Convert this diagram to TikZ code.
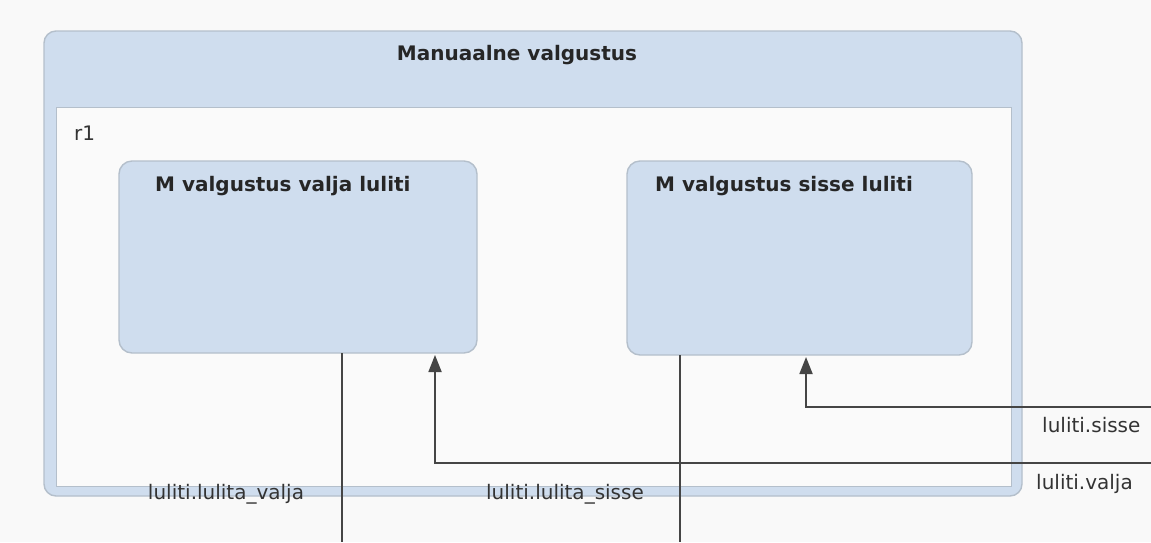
\documentclass[tikz,border=0pt]{standalone}
\usepackage{fontspec}
\setmainfont{DejaVu Sans}
\usetikzlibrary{arrows.meta}
\definecolor{pagebg}{HTML}{F9F9F9}
\definecolor{stfill}{HTML}{CFDDEE}
\definecolor{stline}{HTML}{B4BFCB}
\definecolor{regfill}{HTML}{FAFAFA}
\definecolor{wire}{HTML}{454545}
\definecolor{txt}{HTML}{333333}
\tikzset{
  statebox/.style={draw=stline, line width=1.4pt, fill=stfill, rounded corners=13pt},
  title/.style={font=\bfseries\fontsize{20}{24}\selectfont, text=black!85, inner sep=0pt},
  lbl/.style={font=\fontsize{20}{24}\selectfont, text=txt, inner sep=0pt},
  wireline/.style={draw=wire, line width=1.8pt},
  tip/.style={-{Triangle[length=17pt,width=13pt]}}
}
\begin{document}
\begin{tikzpicture}[x=1pt,y=-1pt]
  \useasboundingbox[fill=pagebg] (0,0) rectangle (1151,542);
  % composite state with its header band
  \draw[statebox, rounded corners=12pt] (44,31) rectangle (1022,496);
  \draw[draw=stline, line width=1pt, fill=regfill] (56,107) rectangle (1011,486);
  \node[title, anchor=center] (mv) at (517,55) {Manuaalne valgustus};
  \node[lbl, anchor=west] (r1) at (74,133) {r1};
  % inner states
  \draw[statebox] (119,161) rectangle (477,353);
  \node[title, anchor=west] (offt) at (155,186) {M valgustus valja luliti};
  \draw[statebox] (627,161) rectangle (972,355);
  \node[title, anchor=west] (ont) at (655,186) {M valgustus sisse luliti};
  % connector end points
  \coordinate (offout) at (342,353);
  \coordinate (offbot) at (342,542);
  \coordinate (onout) at (680,355);
  \coordinate (onbot) at (680,542);
  \coordinate (offin) at (435,355);
  \coordinate (onin) at (806,357);
  \coordinate (valjaR) at (1151,463);
  \coordinate (sisseR) at (1151,407);
  % transitions
  \draw[wireline] (offout) -- (offbot);
  \draw[wireline] (onout) -- (onbot);
  \draw[wireline, tip] (valjaR) -| (offin);
  \draw[wireline, tip] (sisseR) -| (onin);
  % transition labels
  \node[lbl, anchor=west] (ls) at (1042,425) {luliti.sisse};
  \node[lbl, anchor=west] (lv) at (1036,484) {luliti.valja};
  \node[lbl, anchor=center] (llv) at (226,494) {luliti.lulita\_valja};
  \node[lbl, anchor=center] (lls) at (565,494) {luliti.lulita\_sisse};
\end{tikzpicture}
\end{document}
